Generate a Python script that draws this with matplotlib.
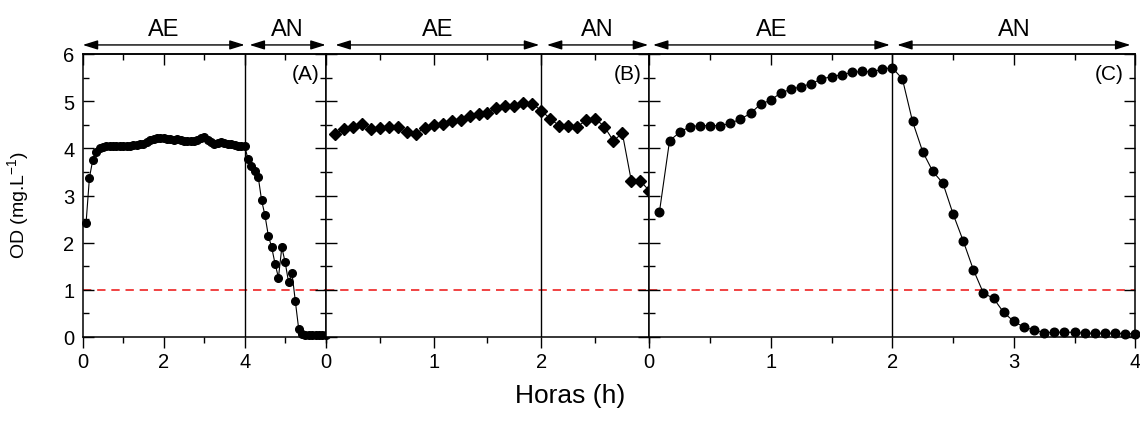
import numpy as np
import matplotlib
matplotlib.use("Agg")
import matplotlib.pyplot as plt
from matplotlib.ticker import MultipleLocator, FixedLocator

plt.rcParams['font.family'] = ['Liberation Sans', 'DejaVu Sans']
plt.rcParams['mathtext.fontset'] = 'custom'
plt.rcParams['mathtext.rm'] = 'Liberation Sans'
plt.rcParams['mathtext.it'] = 'Liberation Sans:italic'

# OD readings every 5 min (1/12 h) for the three runs
od_a = [2.42, 3.38, 3.76, 3.93, 4.00, 4.03, 4.04, 4.04, 4.05, 4.04, 4.05, 4.06,
        4.05, 4.06, 4.07, 4.07, 4.09, 4.10, 4.13, 4.18, 4.20, 4.22, 4.21, 4.22,
        4.20, 4.19, 4.17, 4.19, 4.18, 4.16, 4.15, 4.16, 4.15, 4.17, 4.21, 4.24,
        4.18, 4.13, 4.10, 4.12, 4.13, 4.11, 4.10, 4.09, 4.08, 4.06, 4.05, 4.04,
        3.77, 3.63, 3.52, 3.40, 2.90, 2.58, 2.15, 1.90, 1.55, 1.26, 1.90, 1.58,
        1.16, 1.36, 0.76, 0.17, 0.06, 0.05, 0.05, 0.05, 0.05, 0.05, 0.05, 0.04]
od_b = [4.30, 4.41, 4.46, 4.51, 4.42, 4.44, 4.46, 4.46, 4.34, 4.30, 4.44, 4.49,
        4.51, 4.58, 4.60, 4.69, 4.72, 4.75, 4.85, 4.89, 4.89, 4.97, 4.94, 4.80,
        4.62, 4.48, 4.48, 4.46, 4.60, 4.63, 4.46, 4.16, 4.32, 3.31, 3.31, 3.10]
od_c = [2.65, 4.16, 4.34, 4.46, 4.48, 4.48, 4.48, 4.53, 4.62, 4.74, 4.94, 5.02,
        5.18, 5.25, 5.31, 5.37, 5.47, 5.52, 5.56, 5.61, 5.63, 5.62, 5.68, 5.71,
        5.47, 4.57, 3.93, 3.51, 3.26, 2.61, 2.04, 1.43, 0.93, 0.82, 0.52, 0.33,
        0.21, 0.15, 0.09, 0.10, 0.10, 0.10, 0.08, 0.08, 0.08, 0.08, 0.07, 0.07]

t_a = np.arange(1, len(od_a) + 1) / 12
t_b = np.arange(1, len(od_b) + 1) / 12
t_c = np.arange(1, len(od_c) + 1) / 12

panel_names = ['(A)', '(B)', '(C)']
xlims = [(0, 6), (0, 3), (0, 4)]
major_ticks = [[0, 2, 4], [0, 1, 2], [0, 1, 2, 3, 4]]
minor_step = [1, 0.5, 0.5]
switch_time = [4, 2, 2]  # end of aerobic phase
ae_span = [(0.0, 4.0), (0.09, 1.98), (0.03, 1.98)]
an_span = [(4.12, 6.0), (2.05, 2.99), (2.04, 3.96)]
markers = [('o', 5.5), ('D', 6.2), ('o', 6.2)]
limit_od = 1.0

W, H = 1140, 435
fig = plt.figure(figsize=(W / 100, H / 100), dpi=100)
edges = [82.7, 325.7, 649.3, 1135.3]
top, bottom = 55, 338

series = [(t_a, od_a), (t_b, od_b), (t_c, od_c)]
for i in range(3):
    ax = fig.add_axes([edges[i] / W, (H - bottom) / H,
                       (edges[i + 1] - edges[i]) / W, (bottom - top) / H])
    t, od = series[i]
    m, ms = markers[i]
    ax.plot(t, od, color='black', lw=0.8, marker=m, ms=ms, mfc='black',
            mec='black', zorder=3, clip_on=False)
    ax.axvline(switch_time[i], color='black', lw=1.0, zorder=2)
    ax.axhline(limit_od, color='#ee2222', lw=1.2, ls=(0, (5, 3.5)), zorder=1)

    ax.set_xlim(*xlims[i])
    ax.set_ylim(0, 6)
    ax.xaxis.set_major_locator(FixedLocator(major_ticks[i]))
    ax.xaxis.set_minor_locator(MultipleLocator(minor_step[i]))
    ax.yaxis.set_major_locator(MultipleLocator(1))
    ax.yaxis.set_minor_locator(MultipleLocator(0.5))
    ax.tick_params(axis='x', which='both', direction='out', top=False,
                   labelsize=14.5, pad=3, width=1.0)
    ax.tick_params(axis='y', which='both', direction='in', right=True,
                   labelsize=14.5, pad=6, width=1.0)
    ax.tick_params(which='major', length=8)
    ax.tick_params(which='minor', length=4)
    if i > 0:
        ax.tick_params(axis='y', labelleft=False)
    for s in ax.spines.values():
        s.set_linewidth(1.1)

    # inward ticks along the top edge
    sec = ax.secondary_xaxis('top')
    sec.xaxis.set_major_locator(FixedLocator(major_ticks[i]))
    sec.xaxis.set_minor_locator(MultipleLocator(minor_step[i]))
    sec.tick_params(which='both', direction='in', labeltop=False, width=1.0)
    sec.tick_params(which='major', length=8)
    sec.tick_params(which='minor', length=4)
    sec.spines['top'].set_linewidth(1.1)

    ax.text(0.975, 0.965, panel_names[i], transform=ax.transAxes,
            ha='right', va='top', fontsize=15)

    # aerobic / anaerobic phase arrows above each panel
    trans = ax.get_xaxis_transform()
    for (x0, x1), lab in [(ae_span[i], 'AE'), (an_span[i], 'AN')]:
        ax.annotate('', xy=(x1, 1.032), xytext=(x0, 1.032), xycoords=trans,
                    textcoords=trans, annotation_clip=False,
                    arrowprops=dict(arrowstyle='<|-|>,head_length=0.9,head_width=0.28',
                                    color='black', lw=1.0, shrinkA=0, shrinkB=0,
                                    mutation_scale=10))
        ax.text((x0 + x1) / 2, 1.09, lab, transform=trans, ha='center',
                va='center', fontsize=17)

fig.text(570 / W, 1 - 396 / H, 'Horas (h)', ha='center', va='center', fontsize=19)
fig.text(18 / W, 1 - 205 / H, 'OD (mg.L$^{-1}$)', ha='center', va='center',
         rotation=90, fontsize=14)

fig.savefig('out.png', dpi=100)
